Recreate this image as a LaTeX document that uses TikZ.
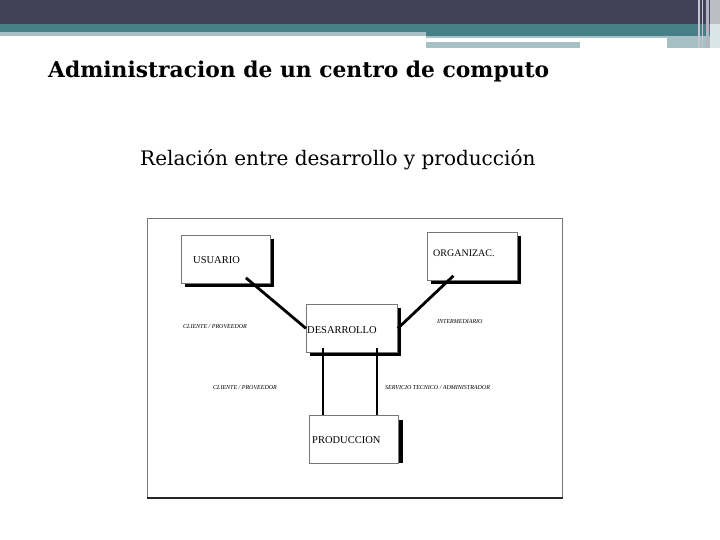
\documentclass[tikz,border=0pt]{standalone}
\usepackage{fontspec}
\setmainfont{Liberation Serif}
\newfontfamily\titlefont{DejaVu Serif}
\usetikzlibrary{shadows,calc}
\definecolor{bandDark}{HTML}{41425A}
\definecolor{bandTeal}{HTML}{477F86}
\definecolor{bandLight}{HTML}{A6C0C3}
\definecolor{boxEdge}{HTML}{777777}
\tikzset{
  boxnode/.style={draw=boxEdge, line width=0.8pt, fill=white, inner sep=0pt, anchor=north west},
  shadowed/.style={drop shadow={shadow xshift=4pt, shadow yshift=-4pt, fill=black, opacity=1}},
  boxtext/.style={anchor=west, inner sep=0pt, font=\fontsize{10.5}{12}\selectfont},
  smalllabel/.style={anchor=west, inner sep=0pt, font=\fontsize{6}{7}\selectfont\itshape},
  link/.style={line width=2.8pt, black},
  vlink/.style={line width=2pt, black}
}
\begin{document}
\begin{tikzpicture}[x=1pt,y=-1pt]
\useasboundingbox (0,0) rectangle (720,540);
\fill[white] (0,0) rectangle (720,540);
% top band
\fill[bandDark] (0,0) rectangle (720,24);
\fill[bandTeal] (0,24) rectangle (720,36);
\fill[bandLight] (0,32) rectangle (426,36);
\fill[bandLight] (426,36) rectangle (720,38);
\fill[bandLight] (426,42) rectangle (580,48);
\fill[bandLight] (667,36) rectangle (710,48);
\fill[white!70!bandDark] (698,0) rectangle (699.5,48);
\fill[white!70!bandDark] (702,0) rectangle (703,48);
\fill[white!60!bandDark] (706,0) rectangle (708.5,48);
\fill[white!65!bandDark] (710,0) rectangle (720,24);
\fill[white!80!bandTeal] (710,24) rectangle (720,48);
% titles
\node[anchor=base west, inner sep=0pt, font=\titlefont\bfseries\fontsize{21.8}{26}\selectfont] (title) at (48,78) {Administracion de un centro de computo};
\node[anchor=base west, inner sep=0pt, font=\titlefont\fontsize{20}{24}\selectfont] (subtitle) at (140,166) {Relación entre desarrollo y producción};
% frame
\node[draw=boxEdge, line width=0.8pt, inner sep=0pt, minimum width=415pt, minimum height=279pt, anchor=north west] (frame) at (147,218) {};
\draw[line width=2.5pt, black!85] (frame.south west) -- (frame.south east);
% boxes
\node[boxnode, shadowed, minimum width=89pt, minimum height=48pt] (usuario) at (181,235) {};
\node[boxnode, shadowed, minimum width=90pt, minimum height=48pt] (organizac) at (427,232) {};
\node[boxnode, shadowed, minimum width=91pt, minimum height=48pt] (desarrollo) at (306,304) {};
\node[boxnode, minimum width=89pt, minimum height=48pt] (produccion) at (309,415) {};
\draw[line width=4pt, black] ([xshift=2pt,yshift=-5pt]produccion.north east) -- ([xshift=2pt,yshift=1pt]produccion.south east);
% box texts
\node[boxtext] (usuario-t) at (193,260) {USUARIO};
\node[boxtext, font=\fontsize{10}{12}\selectfont] (organizac-t) at (433,253) {ORGANIZAC.};
\node[boxtext] (desarrollo-t) at (307,330) {DESARROLLO};
\node[boxtext] (produccion-t) at (312,440) {PRODUCCION};
% connectors
\draw[link] ([xshift=20pt,yshift=6pt]usuario.south) -- (desarrollo.west);
\draw[link] ([xshift=-19pt,yshift=5pt]organizac.south) -- (desarrollo.east);
\draw[vlink] ([xshift=-28.5pt,yshift=5pt]desarrollo.south) -- ([xshift=-28.5pt]desarrollo.south |- produccion.north);
\draw[vlink] ([xshift=25.5pt,yshift=5pt]desarrollo.south) -- ([xshift=25.5pt]desarrollo.south |- produccion.north);
% labels
\node[smalllabel] (l1) at (183,327) {CLIENTE / PROVEEDOR};
\node[smalllabel] (l2) at (437,322) {INTERMEDIARIO};
\node[smalllabel] (l3) at (213,388) {CLIENTE / PROVEEDOR};
\node[smalllabel] (l4) at (385,388) {SERVICIO TECNICO / ADMINISTRADOR};
\end{tikzpicture}
\end{document}
